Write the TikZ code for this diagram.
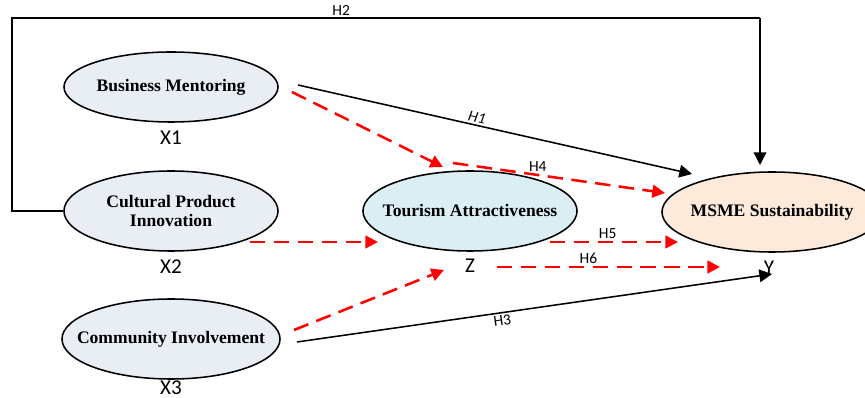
\documentclass[tikz,border=0pt]{standalone}
\usepackage{fontspec}
\setmainfont{Liberation Serif}
\newfontfamily\labelfont{Carlito}
\usetikzlibrary{arrows.meta,shapes.geometric}

\definecolor{xfill}{RGB}{233,237,244}
\definecolor{zfill}{RGB}{218,238,243}
\definecolor{yfill}{RGB}{253,234,218}
\definecolor{hred}{RGB}{255,0,0}

\tikzset{
  construct/.style={ellipse,draw,line width=1.1pt,inner xsep=-16pt,inner ysep=0pt,
    align=center,minimum width=5.35cm,minimum height=1.75cm,
    font=\bfseries\fontsize{12.5}{14}\selectfont},
  varlab/.style={font=\labelfont\fontsize{15}{16}\selectfont},
  hlab/.style={font=\labelfont\fontsize{11}{12}\selectfont,inner sep=1.5pt},
  direct/.style={line width=1.1pt,-{Triangle[length=9pt,width=9pt]}},
  mediated/.style={hred,line width=1.8pt,dash pattern=on 11pt off 6pt,
    -{Triangle[length=9pt,width=9pt]}}
}

\begin{document}
\begin{tikzpicture}[x=0.025cm,y=-0.025cm]
\useasboundingbox (0,0) rectangle (865,398);

% constructs
\node[construct,fill=xfill] (bm) at (171,87) {Business Mentoring};
\node[construct,fill=xfill,minimum height=2cm] (cpi) at (171,211) {Cultural Product\\Innovation};
\node[construct,fill=xfill,minimum width=5.45cm,minimum height=2cm] (ci) at (171,339) {Community Involvement};
\node[construct,fill=zfill,minimum height=2cm] (ta) at (470,211) {Tourism Attractiveness};
\node[construct,fill=yfill,minimum width=5.5cm,minimum height=2cm] (ms) at (772,212) {MSME Sustainability};

\node[varlab] (x1) at (171,138) {X1};
\node[varlab] (x2) at (171,267) {X2};
\node[varlab] (x3) at (171,388) {X3};
\node[varlab] (z) at (470,266) {Z};
\node[varlab] (y) at (769,268) {Y};

% free ends of the paths
\coordinate (h2a) at (12,211);
\coordinate (h2b) at (12,18);
\coordinate (h2c) at (760,18);
\coordinate (h2e) at (760,165);
\coordinate (h1s) at (298,85);
\coordinate (h1e) at (692,174);
\coordinate (h3s) at (297,342);
\coordinate (h3e) at (772,274);
\coordinate (m1s) at (292,92);
\coordinate (m1e) at (443,167);
\coordinate (m2s) at (250,242);
\coordinate (m2e) at (378,242);
\coordinate (m3s) at (294,330);
\coordinate (m3e) at (444,270);
\coordinate (h4s) at (453,163);
\coordinate (h4e) at (665,193);
\coordinate (h5s) at (550,242);
\coordinate (h5e) at (678,242);
\coordinate (h6s) at (497,267);
\coordinate (h6e) at (720,267);

% direct paths
\draw[line width=1.1pt] (cpi.west) -- (h2a) |- (h2c)
  node[hlab,above,pos=0.72] (lh2) {H2};
\draw[direct] (h2c) -- (h2e);
\draw[direct] (h1s) -- (h1e)
  node[hlab,sloped,above,pos=0.45,font=\labelfont\itshape\fontsize{11}{12}\selectfont] (lh1) {H1};
\draw[direct] (h3s) -- (h3e)
  node[hlab,sloped,below,pos=0.43] (lh3) {H3};

% mediated paths
\draw[mediated] (m1s) -- (m1e);
\draw[mediated] (m2s) -- (m2e);
\draw[mediated] (m3s) -- (m3e);
\draw[mediated] (h4s) -- (h4e) node[hlab,above,pos=0.4,black] (lh4) {H4};
\draw[mediated] (h5s) -- (h5e) node[hlab,above,pos=0.45,black] (lh5) {H5};
\draw[mediated] (h6s) -- (h6e) node[hlab,above,pos=0.41,black] (lh6) {H6};

\end{tikzpicture}
\end{document}
